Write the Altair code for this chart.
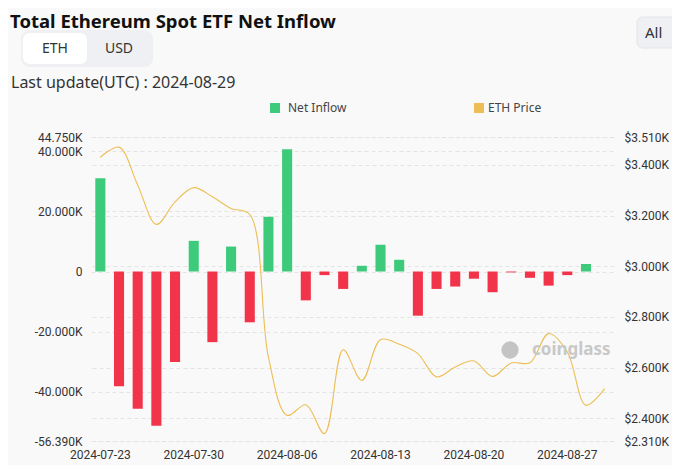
import altair as alt
import pandas as pd

dates = ["2024-07-23","2024-07-24","2024-07-25","2024-07-26","2024-07-29","2024-07-30","2024-07-31",
         "2024-08-01","2024-08-02","2024-08-05","2024-08-06","2024-08-07","2024-08-08","2024-08-09",
         "2024-08-12","2024-08-13","2024-08-14","2024-08-15","2024-08-16","2024-08-19","2024-08-20",
         "2024-08-21","2024-08-22","2024-08-23","2024-08-26","2024-08-27","2024-08-28","2024-08-29"]
net_inflow = [31000, -38200, -45700, -51300, -30100, 10200, -23500, 8300, -16900, 18200, 40700,
              -9600, -1200, -5800, 1900, 8900, 3900, -14700, -5800, -5000, -2400, -6900, -300,
              -2100, -4700, -1200, 2500, None]
eth_price = [3430, 3470, 3320, 3165, 3254, 3310, 3274, 3228, 3204, 2641, 2411, 2453, 2339, 2670,
             2549, 2710, 2692, 2655, 2563, 2602, 2626, 2565, 2618, 2619, 2734, 2661, 2451, 2517]
x_ticks = ["2024-07-23","2024-07-30","2024-08-06","2024-08-13","2024-08-20","2024-08-27"]
left_ticks = [-56390, -40000, -20000, 0, 20000, 40000, 44750]
right_ticks = [2310, 2400, 2600, 2800, 3000, 3200, 3400, 3510]

GREEN = "#3DCB7B"
RED = "#F2344A"
GOLD = "#EDBE55"
FONT = "Noto Sans"
NUM_FONT = "Roboto"

df = pd.DataFrame({"date": dates, "inflow": net_inflow, "price": eth_price})

xenc = alt.X("date:O", sort=None,
             scale=alt.Scale(paddingInner=0.46, paddingOuter=0.23),
             axis=alt.Axis(values=x_ticks, labelAngle=0, title=None, ticks=False, domain=False,
                           labelPadding=8, labelFontSize=12, labelColor="#333",
                           labelFont=NUM_FONT, grid=False))

bars = alt.Chart(df).transform_filter("isValid(datum.inflow)").mark_bar().encode(
    x=xenc,
    y=alt.Y("inflow:Q", scale=alt.Scale(domain=[-56390, 44750], nice=False, zero=False),
            axis=alt.Axis(values=left_ticks, title=None, ticks=False, domain=False,
                          labelPadding=9, labelFontSize=12, labelColor="#333", labelFont=NUM_FONT,
                          labelOverlap=False, labelFlush=False,
                          labelExpr="datum.value == 0 ? '0' : (datum.value < 0 ? '-' : '') + format(abs(datum.value)/1000, '.3f') + 'K'",
                          grid=True, gridColor="#e4e4e4", gridDash=[4, 3], gridWidth=1)),
    color=alt.condition("datum.inflow > 0", alt.value(GREEN), alt.value(RED)),
)

line = alt.Chart(df).mark_line(interpolate="catmull-rom", color=GOLD, strokeWidth=1.1).encode(
    x=xenc,
    y=alt.Y("price:Q", scale=alt.Scale(domain=[2310, 3510], nice=False, zero=False),
            axis=alt.Axis(values=right_ticks, orient="right", title=None, ticks=False, domain=False,
                          labelPadding=10, labelFontSize=12, labelColor="#333", labelFont=NUM_FONT,
                          labelOverlap=False, labelFlush=False,
                          labelExpr="'$' + format(datum.value/1000, '.3f') + 'K'",
                          grid=True, gridColor="#e4e4e4", gridDash=[4, 3], gridWidth=1)),
)

one = pd.DataFrame({"k": [0]})

def txt(s, x, y, size, color="#333", weight="normal", align="left", baseline="middle", font=FONT):
    return alt.Chart(one).mark_text(text=s, fontSize=size, color=color, fontWeight=weight,
                                    align=align, baseline=baseline, font=font).encode(
        x=alt.value(x), y=alt.value(y))

def box(x, x2, y, y2, fill, r, stroke=None):
    kw = dict(fill=fill, cornerRadius=r)
    if stroke:
        kw.update(stroke=stroke, strokeWidth=1)
    return alt.Chart(one).mark_rect(**kw).encode(
        x=alt.value(x), x2=alt.value(x2), y=alt.value(y), y2=alt.value(y2))

title = txt("Total Ethereum Spot ETF Net Inflow", -81, -124, 18.5, "#111", "bold", baseline="top")
toggle_bg = box(-70, 62, -107, -70, "#eef0f3", 9)
toggle_on = box(-68, -4, -104, -73, "#ffffff", 7)
eth_t = txt("ETH", -36, -88, 14, align="center")
usd_t = txt("USD", 28, -88, 14, align="center")
upd = txt("Last update(UTC) : 2024-08-29", -80, -54, 16)
all_bg = box(546, 600, -120, -89, "#eef0f3", 6, stroke="#e2e4e8")
all_t = txt("All", 554, -104, 15)

leg1 = alt.Chart(one).mark_square(size=100, color=GREEN, opacity=1).encode(
    x=alt.value(184), y=alt.value(-29))
leg1t = txt("Net Inflow", 197, -29, 12, "#444")
leg2 = alt.Chart(one).mark_square(size=100, color=GOLD, opacity=1).encode(
    x=alt.value(388), y=alt.value(-29))
leg2t = txt("ETH Price", 397, -29, 12, "#444")

wm_logo = alt.Chart(one).mark_circle(size=300, color="#c4c4c4", opacity=1).encode(
    x=alt.value(419), y=alt.value(213))
wm = txt("coinglass", 441, 213, 17, "#c8c8c8", "bold")

chart = alt.layer(
    bars, line
).resolve_scale(y="independent")

deco = alt.layer(title, toggle_bg, toggle_on, eth_t, usd_t, upd, all_bg, all_t,
                 leg1, leg1t, leg2, leg2t, wm_logo, wm)

final = alt.layer(chart, deco).resolve_scale(y="independent").properties(
    width=523, height=304,
    padding={"left": 83, "top": 129, "right": 58, "bottom": 24},
    autosize="none",
    background="#f9f9f9",
).configure_view(stroke=None)

final.save("out.html", embed_options={"renderer": "svg", "actions": False})
